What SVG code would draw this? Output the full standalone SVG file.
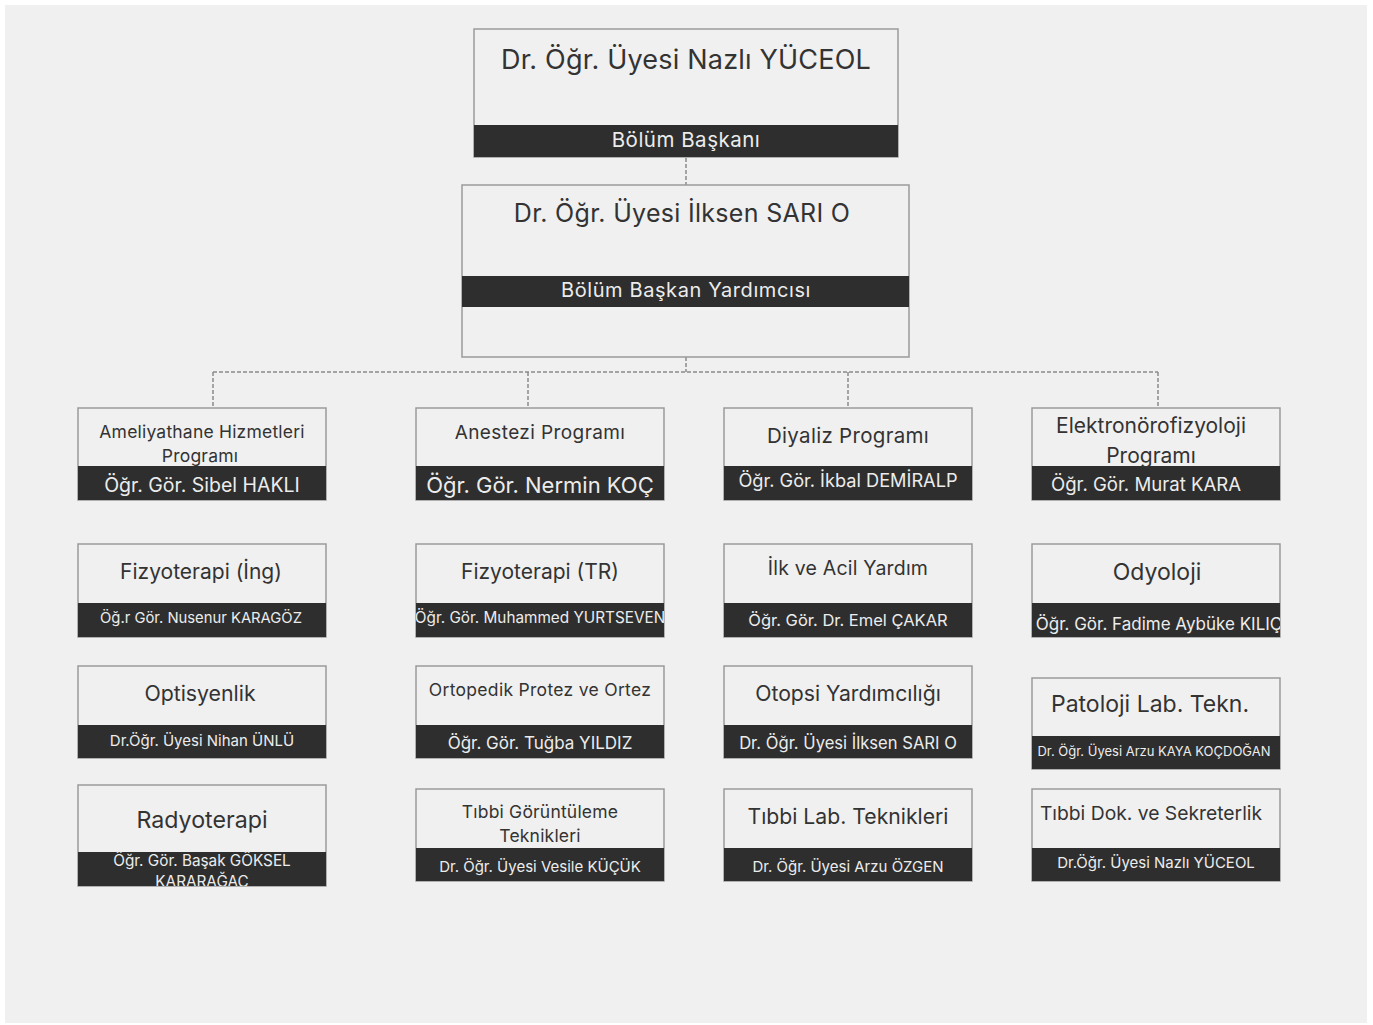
<svg xmlns="http://www.w3.org/2000/svg" width="1373" height="1025" viewBox="0 0 1373 1025">
<style>
.box{fill:#f0f0f0;stroke:#9a9a9a;stroke-width:1.5}
.band{fill:#2e2e2e}
.t{font-family:Inter,"Noto Sans","Liberation Sans",sans-serif;fill:#333;text-anchor:middle}
.w{font-family:Inter,"Noto Sans","Liberation Sans",sans-serif;fill:#ececec;text-anchor:middle}
.c{fill:none;stroke:#8a8a8a;stroke-width:1.5;stroke-dasharray:4 2}
</style>
<defs>
<clipPath id="cp22"><rect x="416" y="544" width="248" height="93"/></clipPath>
<clipPath id="cp42"><rect x="1032" y="544" width="248" height="93"/></clipPath>
<clipPath id="cp14"><rect x="78" y="785" width="248" height="101"/></clipPath>
</defs>
<rect x="0" y="0" width="1373" height="1025" fill="#ffffff"/>
<rect x="5" y="5" width="1362" height="1018" fill="#f0f0f0"/>
<g id="connectors">
<path class="c" d="M686 158V185"/>
<path class="c" d="M686 357V372M213 372H1158M213 372V408M528 372V408M848 372V408M1158 372V408"/>
</g>
<g id="head">
<rect class="box" x="474" y="29" width="424" height="128"/>
<rect class="band" x="474" y="125" width="424" height="32"/>
<text class="t" x="686" y="69" font-size="27" letter-spacing="0.2">Dr. Öğr. Üyesi Nazlı YÜCEOL</text>
<text class="w" x="686" y="147" font-size="20.5" letter-spacing="0.5">Bölüm Başkanı</text>
</g>
<g id="deputy">
<rect class="box" x="462" y="185" width="447" height="172"/>
<rect class="band" x="462" y="276" width="447" height="31"/>
<text class="t" x="682" y="222" font-size="25" letter-spacing="0.3">Dr. Öğr. Üyesi İlksen SARI O</text>
<text class="w" x="686" y="297" font-size="20" letter-spacing="0.6">Bölüm Başkan Yardımcısı</text>
</g>
<g id="ameliyathane">
<rect class="box" x="78" y="408" width="248" height="92"/>
<rect class="band" x="78" y="466" width="248" height="34"/>
<text class="t" x="202" y="438" font-size="17.5" letter-spacing="0.2">Ameliyathane Hizmetleri</text>
<text class="t" x="200" y="462" font-size="17.5" letter-spacing="0.2">Programı</text>
<text class="w" x="202" y="492" font-size="19.5">Öğr. Gör. Sibel HAKLI</text>
</g>
<g id="anestezi">
<rect class="box" x="416" y="408" width="248" height="92"/>
<rect class="band" x="416" y="466" width="248" height="34"/>
<text class="t" x="540" y="439" font-size="19" letter-spacing="0.4">Anestezi Programı</text>
<text class="w" x="540" y="493" font-size="22">Öğr. Gör. Nermin KOÇ</text>
</g>
<g id="diyaliz">
<rect class="box" x="724" y="408" width="248" height="92"/>
<rect class="band" x="724" y="466" width="248" height="34"/>
<text class="t" x="848" y="443" font-size="20.5" letter-spacing="0.3">Diyaliz Programı</text>
<text class="w" x="848" y="487" font-size="18.2">Öğr. Gör. İkbal DEMİRALP</text>
</g>
<g id="elektro">
<rect class="box" x="1032" y="408" width="248" height="92"/>
<rect class="band" x="1032" y="466" width="248" height="34"/>
<text class="t" x="1151" y="433" font-size="21">Elektronörofizyoloji</text>
<text class="t" x="1151" y="463" font-size="21">Programı</text>
<text class="w" x="1146" y="491" font-size="18.6">Öğr. Gör. Murat KARA</text>
</g>
<g id="fizyo-ing">
<rect class="box" x="78" y="544" width="248" height="93"/>
<rect class="band" x="78" y="603" width="248" height="34"/>
<text class="t" x="201" y="579" font-size="21">Fizyoterapi (İng)</text>
<text class="w" x="201" y="623" font-size="14.8">Öğ.r Gör. Nusenur KARAGÖZ</text>
</g>
<g id="fizyo-tr">
<rect class="box" x="416" y="544" width="248" height="93"/>
<rect class="band" x="416" y="603" width="248" height="34"/>
<text class="t" x="540" y="579" font-size="21">Fizyoterapi (TR)</text>
<text class="w" x="540" y="623" font-size="15.3" clip-path="url(#cp22)">Öğr. Gör. Muhammed YURTSEVEN</text>
</g>
<g id="ilk-acil">
<rect class="box" x="724" y="544" width="248" height="93"/>
<rect class="band" x="724" y="603" width="248" height="34"/>
<text class="t" x="848" y="575" font-size="19.5" letter-spacing="0.2">İlk ve Acil Yardım</text>
<text class="w" x="848" y="626" font-size="16.5">Öğr. Gör. Dr. Emel ÇAKAR</text>
</g>
<g id="odyoloji">
<rect class="box" x="1032" y="544" width="248" height="93"/>
<rect class="band" x="1032" y="603" width="248" height="34"/>
<text class="t" x="1157" y="580" font-size="23">Odyoloji</text>
<text class="w" x="1159" y="630" font-size="17" clip-path="url(#cp42)">Öğr. Gör. Fadime Aybüke KILIÇ</text>
</g>
<g id="optisyenlik">
<rect class="box" x="78" y="666" width="248" height="92"/>
<rect class="band" x="78" y="725" width="248" height="33"/>
<text class="t" x="200" y="701" font-size="21.3">Optisyenlik</text>
<text class="w" x="202" y="746" font-size="15">Dr.Öğr. Üyesi Nihan ÜNLÜ</text>
</g>
<g id="ortopedik">
<rect class="box" x="416" y="666" width="248" height="92"/>
<rect class="band" x="416" y="725" width="248" height="33"/>
<text class="t" x="540" y="696" font-size="17.5" letter-spacing="0.3">Ortopedik Protez ve Ortez</text>
<text class="w" x="540" y="749" font-size="17">Öğr. Gör. Tuğba YILDIZ</text>
</g>
<g id="otopsi">
<rect class="box" x="724" y="666" width="248" height="92"/>
<rect class="band" x="724" y="725" width="248" height="33"/>
<text class="t" x="848" y="701" font-size="21.2">Otopsi Yardımcılığı</text>
<text class="w" x="848" y="749" font-size="16.6">Dr. Öğr. Üyesi İlksen SARI O</text>
</g>
<g id="patoloji">
<rect class="box" x="1032" y="678" width="248" height="91"/>
<rect class="band" x="1032" y="736" width="248" height="33"/>
<text class="t" x="1150" y="712" font-size="23">Patoloji Lab. Tekn.</text>
<text class="w" x="1154" y="756" font-size="13">Dr. Öğr. Üyesi Arzu KAYA KOÇDOĞAN</text>
</g>
<g id="radyoterapi">
<rect class="box" x="78" y="785" width="248" height="101"/>
<rect class="band" x="78" y="852" width="248" height="34"/>
<text class="t" x="202" y="828" font-size="23.2">Radyoterapi</text>
<g clip-path="url(#cp14)">
<text class="w" x="202" y="866" font-size="15.3">Öğr. Gör. Başak GÖKSEL</text>
<text class="w" x="202" y="887" font-size="15.3">KARARAĞAÇ</text>
</g>
</g>
<g id="goruntuleme">
<rect class="box" x="416" y="789" width="248" height="92"/>
<rect class="band" x="416" y="848" width="248" height="33"/>
<text class="t" x="540" y="818" font-size="17.5" letter-spacing="0.2">Tıbbi Görüntüleme</text>
<text class="t" x="540" y="842" font-size="17.5" letter-spacing="0.2">Teknikleri</text>
<text class="w" x="540" y="872" font-size="15">Dr. Öğr. Üyesi Vesile KÜÇÜK</text>
</g>
<g id="tibbi-lab">
<rect class="box" x="724" y="789" width="248" height="92"/>
<rect class="band" x="724" y="848" width="248" height="33"/>
<text class="t" x="848" y="824" font-size="21.2">Tıbbi Lab. Teknikleri</text>
<text class="w" x="848" y="872" font-size="15">Dr. Öğr. Üyesi Arzu ÖZGEN</text>
</g>
<g id="tibbi-dok">
<rect class="box" x="1032" y="789" width="248" height="92"/>
<rect class="band" x="1032" y="848" width="248" height="33"/>
<text class="t" x="1151" y="820" font-size="19.3">Tıbbi Dok. ve Sekreterlik</text>
<text class="w" x="1156" y="868" font-size="15">Dr.Öğr. Üyesi Nazlı YÜCEOL</text>
</g>
</svg>
